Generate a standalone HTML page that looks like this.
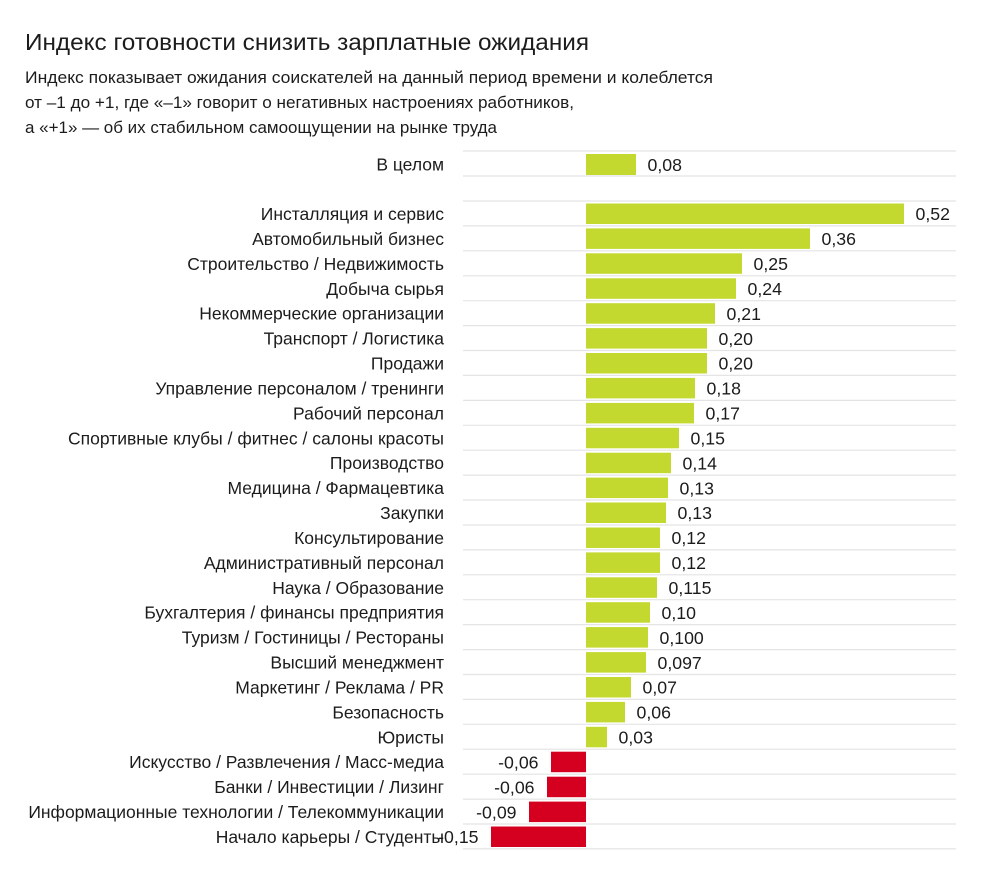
<!DOCTYPE html>
<html>
<head>
<meta charset="utf-8">
<style>
html,body{margin:0;padding:0;background:#fff;}
svg{display:block;}
text{font-family:"Liberation Sans","DejaVu Sans",sans-serif;fill:#1c1c1c;}
.lb{font-size:17.5px;text-anchor:end;}
.v{font-size:17.7px;}
.vn{font-size:17.7px;text-anchor:end;}
.g{fill:#c3d92f;}
.r{fill:#d50020;}
.gl{stroke:#e4e4e4;stroke-width:1.2;}
</style>
</head>
<body>
<svg width="984" height="870" viewBox="0 0 984 870" xmlns="http://www.w3.org/2000/svg">
<text x="25" y="50" font-size="23" textLength="564" lengthAdjust="spacingAndGlyphs">Индекс готовности снизить зарплатные ожидания</text>
<text x="25" y="83" font-size="16.5" textLength="688" lengthAdjust="spacingAndGlyphs">Индекс показывает ожидания соискателей на данный период времени и колеблется</text>
<text x="25" y="108" font-size="16.5" textLength="549" lengthAdjust="spacingAndGlyphs">от –1 до +1, где «–1» говорит о негативных настроениях работников,</text>
<text x="25" y="133" font-size="16.5" textLength="472" lengthAdjust="spacingAndGlyphs">а «+1» — об их стабильном самоощущении на рынке труда</text>

<g class="gl">
<line x1="463" x2="956" y1="151" y2="151"/>
<line x1="463" x2="956" y1="176" y2="176"/>
<line x1="463" x2="956" y1="201" y2="201"/>
<line x1="463" x2="956" y1="225.9" y2="225.9"/>
<line x1="463" x2="956" y1="250.8" y2="250.8"/>
<line x1="463" x2="956" y1="275.8" y2="275.8"/>
<line x1="463" x2="956" y1="300.7" y2="300.7"/>
<line x1="463" x2="956" y1="325.6" y2="325.6"/>
<line x1="463" x2="956" y1="350.5" y2="350.5"/>
<line x1="463" x2="956" y1="375.4" y2="375.4"/>
<line x1="463" x2="956" y1="400.4" y2="400.4"/>
<line x1="463" x2="956" y1="425.3" y2="425.3"/>
<line x1="463" x2="956" y1="450.2" y2="450.2"/>
<line x1="463" x2="956" y1="475.1" y2="475.1"/>
<line x1="463" x2="956" y1="500" y2="500"/>
<line x1="463" x2="956" y1="525" y2="525"/>
<line x1="463" x2="956" y1="549.9" y2="549.9"/>
<line x1="463" x2="956" y1="574.8" y2="574.8"/>
<line x1="463" x2="956" y1="599.7" y2="599.7"/>
<line x1="463" x2="956" y1="624.6" y2="624.6"/>
<line x1="463" x2="956" y1="649.6" y2="649.6"/>
<line x1="463" x2="956" y1="674.5" y2="674.5"/>
<line x1="463" x2="956" y1="699.4" y2="699.4"/>
<line x1="463" x2="956" y1="724.3" y2="724.3"/>
<line x1="463" x2="956" y1="749.2" y2="749.2"/>
<line x1="463" x2="956" y1="774.2" y2="774.2"/>
<line x1="463" x2="956" y1="799.1" y2="799.1"/>
<line x1="463" x2="956" y1="824" y2="824"/>
<line x1="463" x2="956" y1="848.9" y2="848.9"/>
</g>

<!-- В целом -->
<rect class="g" x="586" y="154" width="50" height="21"/>
<text class="lb" x="444" y="170.7">В целом</text>
<text class="v" x="647.5" y="170.9">0,08</text>

<!-- rows -->
<rect class="g" x="586" y="203.5" width="318" height="20.5"/>
<text class="lb" x="444" y="220">Инсталляция и сервис</text>
<text class="v" x="915.5" y="220.2">0,52</text>

<rect class="g" x="586" y="228.4" width="224" height="20.5"/>
<text class="lb" x="444" y="244.9">Автомобильный бизнес</text>
<text class="v" x="821.5" y="245.1">0,36</text>

<rect class="g" x="586" y="253.3" width="156" height="20.5"/>
<text class="lb" x="444" y="269.8">Строительство / Недвижимость</text>
<text class="v" x="753.5" y="270">0,25</text>

<rect class="g" x="586" y="278.3" width="150" height="20.5"/>
<text class="lb" x="444" y="294.8">Добыча сырья</text>
<text class="v" x="747.5" y="295">0,24</text>

<rect class="g" x="586" y="303.2" width="129" height="20.5"/>
<text class="lb" x="444" y="319.7">Некоммерческие организации</text>
<text class="v" x="726.5" y="319.9">0,21</text>

<rect class="g" x="586" y="328.1" width="121" height="20.5"/>
<text class="lb" x="444" y="344.6">Транспорт / Логистика</text>
<text class="v" x="718.5" y="344.8">0,20</text>

<rect class="g" x="586" y="353" width="121" height="20.5"/>
<text class="lb" x="444" y="369.5">Продажи</text>
<text class="v" x="718.5" y="369.7">0,20</text>

<rect class="g" x="586" y="377.9" width="109" height="20.5"/>
<text class="lb" x="444" y="394.4">Управление персоналом / тренинги</text>
<text class="v" x="706.5" y="394.6">0,18</text>

<rect class="g" x="586" y="402.9" width="108" height="20.5"/>
<text class="lb" x="444" y="419.4">Рабочий персонал</text>
<text class="v" x="705.5" y="419.6">0,17</text>

<rect class="g" x="586" y="427.8" width="93" height="20.5"/>
<text class="lb" x="444" y="444.3">Спортивные клубы / фитнес / салоны красоты</text>
<text class="v" x="690.5" y="444.5">0,15</text>

<rect class="g" x="586" y="452.7" width="85" height="20.5"/>
<text class="lb" x="444" y="469.2">Производство</text>
<text class="v" x="682.5" y="469.4">0,14</text>

<rect class="g" x="586" y="477.6" width="82" height="20.5"/>
<text class="lb" x="444" y="494.1">Медицина / Фармацевтика</text>
<text class="v" x="679.5" y="494.3">0,13</text>

<rect class="g" x="586" y="502.5" width="80" height="20.5"/>
<text class="lb" x="444" y="519">Закупки</text>
<text class="v" x="677.5" y="519.2">0,13</text>

<rect class="g" x="586" y="527.5" width="74" height="20.5"/>
<text class="lb" x="444" y="544">Консультирование</text>
<text class="v" x="671.5" y="544.2">0,12</text>

<rect class="g" x="586" y="552.4" width="74" height="20.5"/>
<text class="lb" x="444" y="568.9">Административный персонал</text>
<text class="v" x="671.5" y="569.1">0,12</text>

<rect class="g" x="586" y="577.3" width="71" height="20.5"/>
<text class="lb" x="444" y="593.8">Наука / Образование</text>
<text class="v" x="668.5" y="594">0,115</text>

<rect class="g" x="586" y="602.2" width="64" height="20.5"/>
<text class="lb" x="444" y="618.7">Бухгалтерия / финансы предприятия</text>
<text class="v" x="661.5" y="618.9">0,10</text>

<rect class="g" x="586" y="627.1" width="62" height="20.5"/>
<text class="lb" x="444" y="643.6">Туризм / Гостиницы / Рестораны</text>
<text class="v" x="659.5" y="643.8">0,100</text>

<rect class="g" x="586" y="652.1" width="60" height="20.5"/>
<text class="lb" x="444" y="668.6">Высший менеджмент</text>
<text class="v" x="657.5" y="668.8">0,097</text>

<rect class="g" x="586" y="677" width="45" height="20.5"/>
<text class="lb" x="444" y="693.5">Маркетинг / Реклама / PR</text>
<text class="v" x="642.5" y="693.7">0,07</text>

<rect class="g" x="586" y="701.9" width="39" height="20.5"/>
<text class="lb" x="444" y="718.4">Безопасность</text>
<text class="v" x="636.5" y="718.6">0,06</text>

<rect class="g" x="586" y="726.8" width="21" height="20.5"/>
<text class="lb" x="444" y="743.3">Юристы</text>
<text class="v" x="618.5" y="743.5">0,03</text>

<rect class="r" x="551" y="751.7" width="35" height="20.5"/>
<text class="lb" x="444" y="768.2">Искусство / Развлечения / Масс-медиа</text>
<text class="vn" x="538.5" y="768.4">-0,06</text>

<rect class="r" x="547" y="776.7" width="39" height="20.5"/>
<text class="lb" x="444" y="793.2">Банки / Инвестиции / Лизинг</text>
<text class="vn" x="534.5" y="793.4">-0,06</text>

<rect class="r" x="529" y="801.6" width="57" height="20.5"/>
<text class="lb" x="444" y="818.1">Информационные технологии / Телекоммуникации</text>
<text class="vn" x="516.5" y="818.3">-0,09</text>

<rect class="r" x="491" y="826.5" width="95" height="20.5"/>
<text class="lb" x="444" y="843">Начало карьеры / Студенты</text>
<text class="vn" x="478.5" y="843.2">-0,15</text>
</svg>
</body>
</html>
